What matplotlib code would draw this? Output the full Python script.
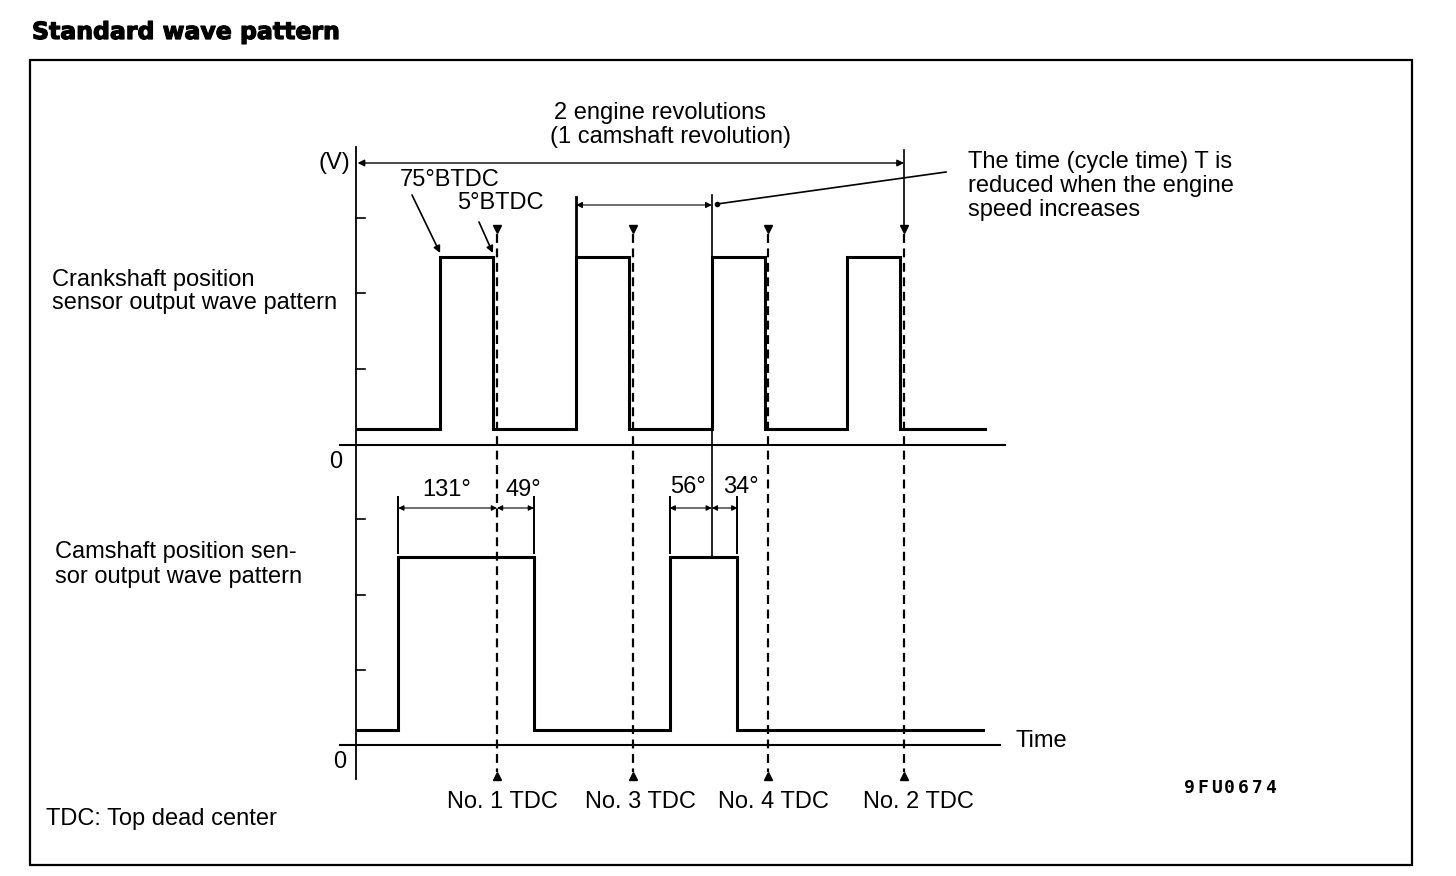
import matplotlib.pyplot as plt
from matplotlib.patches import Rectangle
import matplotlib.patheffects as pe

W, H = 1456, 876
PX_PER_DEG = 0.7537   # crank degrees -> pixels
TDC1_PX = 497         # where No.1 TDC sits

# crank angle data (deg, No.1 TDC = 0)
tdc_deg = [0, 180, 360, 540]
tdc_labels = ["No. 1 TDC", "No. 3 TDC", "No. 4 TDC", "No. 2 TDC"]
crank_rise_btdc = 75
crank_fall_btdc = 5
cam_edges = [-131, 49, 229, 319]
trace_start, trace_end = -185, 647
cam_dim1 = [-131, 0, 49]      # 131 deg / 49 deg
cam_dim2 = [229, 285, 319]    # 56 deg / 34 deg
cam_dim1_labels = ["131°", "49°"]
cam_dim2_labels = ["56°", "34°"]

crank_edges = []
for t in tdc_deg:
    crank_edges += [t - crank_rise_btdc, t - crank_fall_btdc]

FONT = "Liberation Sans"
FS = 17
plt.rcParams['font.family'] = [FONT, 'DejaVu Sans']


def square(edges, start, end, lo, hi):
    xs, ys = [start], [lo]
    level = lo
    for e in edges:
        nxt = hi if level == lo else lo
        xs += [e, e]
        ys += [level, nxt]
        level = nxt
    xs.append(end)
    ys.append(level)
    return xs, ys


fig = plt.figure(figsize=(W / 100, H / 100), dpi=100)
lay = fig.add_axes([0, 0, 1, 1])
lay.set_xlim(0, W)
lay.set_ylim(H, 0)
lay.axis('off')

ax = fig.add_axes([0, 0, 1, 1])
ax.set_xlim(-TDC1_PX / PX_PER_DEG, (W - TDC1_PX) / PX_PER_DEG)
ax.set_ylim(H, 0)
ax.axis('off')
ax.patch.set_alpha(0)

k = 'black'

# title and frame
lay.text(32, 32, "Standard wave pattern", fontsize=17, fontweight='bold',
         family='DejaVu Sans', va='center', ha='left',
         path_effects=[pe.withStroke(linewidth=0.9, foreground=k)])
lay.add_patch(Rectangle((30, 60), 1382, 805, fill=False, lw=1.6, ec=k))

# axes lines
lay.plot([356, 356], [147, 779], color=k, lw=1.3)
lay.plot([340, 1005], [445, 445], color=k, lw=1.5)
lay.plot([340, 1000], [745, 745], color=k, lw=1.5)
for y in [218, 293, 369, 519, 595, 670]:
    lay.plot([356, 365], [y, y], color=k, lw=1.2)

# wave traces
cx, cy = square(crank_edges, trace_start, trace_end, 429, 257)
ax.plot(cx, cy, color=k, lw=2.2, solid_joinstyle='miter')
mx, my = square(cam_edges, trace_start, trace_end - 2, 730, 557)
ax.plot(mx, my, color=k, lw=2.2, solid_joinstyle='miter')

# TDC markers
for t in tdc_deg:
    ax.plot([t, t], [234, 772], color=k, lw=1.6, ls=(0, (4, 2.5)))
    ax.plot(t, 229, marker='v', color=k, ms=6)
    ax.plot(t, 776, marker='^', color=k, ms=6)
for t, lab, xp in zip(tdc_deg, tdc_labels, [502, 640, 773, 918]):
    lay.text(xp, 802, lab, fontsize=FS, ha='center', va='center')

# 2 engine revolutions
ax.plot([tdc_deg[-1]] * 2, [150, 225], color=k, lw=1.2)
ax.annotate("", xy=(trace_start, 163), xytext=(tdc_deg[-1], 163),
            arrowprops=dict(arrowstyle='<|-|>', color=k, lw=1.0,
                            mutation_scale=10, shrinkA=0, shrinkB=0))
lay.text(660, 113, "2 engine revolutions", fontsize=FS, ha='center', va='center')
lay.text(670, 137, "(1 camshaft revolution)", fontsize=FS, ha='center', va='center')
lay.text(350, 163, "(V)", fontsize=FS, ha='right', va='center')

# cycle time T
t_start = tdc_deg[1] - crank_rise_btdc
t_end = tdc_deg[2] - crank_rise_btdc
ax.plot([t_start, t_start], [197, 257], color=k, lw=2.0)
ax.plot([t_end, t_end], [195, 557], color=k, lw=1.2)
ax.annotate("", xy=(t_start, 205), xytext=(t_end, 205),
            arrowprops=dict(arrowstyle='<|-|>', color=k, lw=0.8,
                            mutation_scale=9, shrinkA=0, shrinkB=0))
lay.plot([717, 946], [204, 172], color=k, lw=1.2)
lay.plot(717, 204, marker='o', color=k, ms=3)
for i, line in enumerate(["The time (cycle time) T is",
                          "reduced when the engine",
                          "speed increases"]):
    lay.text(968, 162 + 24 * i, line, fontsize=FS, ha='left', va='center')

# BTDC leaders
x75 = tdc_deg[0] - crank_rise_btdc
x5 = tdc_deg[0] - crank_fall_btdc
ax.annotate("", xy=(x75 - 0.5, 253), xytext=((412 - TDC1_PX) / PX_PER_DEG, 195),
            arrowprops=dict(arrowstyle='-|>', color=k, lw=1.2,
                            mutation_scale=10, shrinkA=0, shrinkB=0))
ax.annotate("", xy=(x5 - 0.5, 253), xytext=((479 - TDC1_PX) / PX_PER_DEG, 222),
            arrowprops=dict(arrowstyle='-|>', color=k, lw=1.2,
                            mutation_scale=10, shrinkA=0, shrinkB=0))
lay.text(450, 180, "75°BTDC", fontsize=FS, ha='center', va='center')
lay.text(500, 203, "5°BTDC", fontsize=FS, ha='center', va='center')

# cam dimensions
for dims, labs, lxs, y_lab in [(cam_dim1, cam_dim1_labels, [447, 523], 490),
                               (cam_dim2, cam_dim2_labels, [688, 741], 487)]:
    for xe in (dims[0], dims[2]):
        ax.plot([xe, xe], [497, 553], color=k, lw=1.4)
    for a, b in [(dims[0], dims[1]), (dims[1], dims[2])]:
        ax.annotate("", xy=(a, 508), xytext=(b, 508),
                    arrowprops=dict(arrowstyle='<|-|>', color=k, lw=0.8,
                                    mutation_scale=8, shrinkA=0, shrinkB=0))
    for lab, xp in zip(labs, lxs):
        lay.text(xp, y_lab, lab, fontsize=FS, ha='center', va='center')

# left labels
lay.text(52, 280, "Crankshaft position", fontsize=FS, ha='left', va='center')
lay.text(52, 303, "sensor output wave pattern", fontsize=FS, ha='left', va='center')
lay.text(55, 552, "Camshaft position sen-", fontsize=FS, ha='left', va='center')
lay.text(55, 577, "sor output wave pattern", fontsize=FS, ha='left', va='center')
lay.text(336, 462, "0", fontsize=FS, ha='center', va='center')
lay.text(340, 762, "0", fontsize=FS, ha='center', va='center')
lay.text(1015, 741, "Time", fontsize=FS, ha='left', va='center')
lay.text(46, 819, "TDC: Top dead center", fontsize=FS, ha='left', va='center')

for i, ch in enumerate("9FU0674"):
    lay.text(1189 + 13.6 * i, 788, ch, fontsize=13, family='DejaVu Sans Mono',
             fontweight='bold', ha='center', va='center')

fig.savefig("out.png", dpi=100, facecolor='white')
